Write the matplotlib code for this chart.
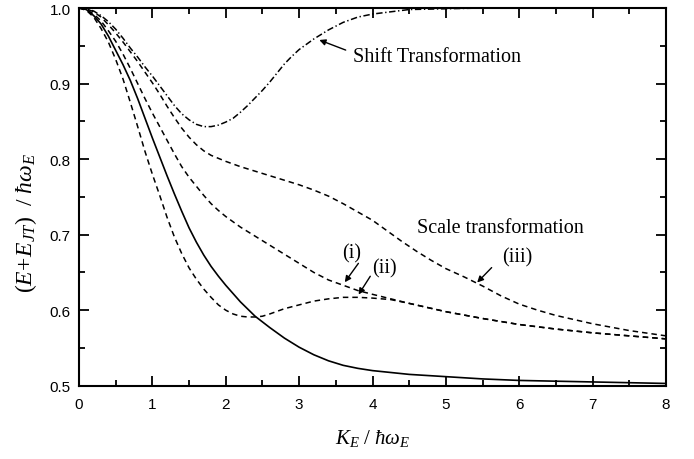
import numpy as np
import matplotlib
matplotlib.use("Agg")
import matplotlib.pyplot as plt
from matplotlib.ticker import MultipleLocator, FormatStrFormatter

plt.rcParams['mathtext.fontset'] = 'custom'
plt.rcParams['mathtext.rm'] = 'Liberation Serif'
plt.rcParams['mathtext.it'] = 'Liberation Serif:italic'
plt.rcParams['mathtext.bf'] = 'Liberation Serif:bold'

# Exact solution (solid)
k_exact = [0, 0.1, 0.2, 0.3, 0.4, 0.5, 0.6, 0.7, 0.8, 0.9, 1.0, 1.1, 1.2, 1.3, 1.4, 1.5,
           1.6, 1.7, 1.8, 1.9, 2.0, 2.2, 2.4, 2.6, 2.8, 3.0, 3.2, 3.4, 3.6, 3.8, 4.0,
           4.5, 5.0, 5.5, 6.0, 6.5, 7.0, 7.5, 8.0]
v_exact = [1.0, 0.998, 0.99, 0.979, 0.963, 0.944, 0.925, 0.904, 0.88, 0.854, 0.828,
           0.803, 0.778, 0.754, 0.731, 0.709, 0.69, 0.673, 0.658, 0.645, 0.633, 0.611,
           0.592, 0.577, 0.563, 0.551, 0.541, 0.533, 0.527, 0.523, 0.520, 0.515, 0.512,
           0.509, 0.507, 0.506, 0.505, 0.504, 0.503]

# Scale transformation (i)
k_i = [0, 0.1, 0.2, 0.3, 0.4, 0.5, 0.6, 0.7, 0.8, 0.9, 1.0, 1.1, 1.2, 1.3, 1.4, 1.5, 1.6,
       1.7, 1.8, 1.9, 2.0, 2.2, 2.4, 2.6, 2.8, 3.0, 3.2, 3.4, 3.6, 3.8, 4.0, 4.25, 4.5,
       5.0, 5.5, 6.0, 6.5, 7.0, 7.5, 8.0]
v_i = [1.0, 0.998, 0.992, 0.983, 0.97, 0.956, 0.939, 0.92, 0.9, 0.88, 0.861, 0.843,
       0.825, 0.807, 0.79, 0.776, 0.764, 0.752, 0.741, 0.732, 0.724, 0.71, 0.698, 0.686,
       0.674, 0.662, 0.65, 0.64, 0.633, 0.626, 0.621, 0.615, 0.609, 0.598, 0.589, 0.581,
       0.575, 0.570, 0.566, 0.562]

# Scale transformation (ii)
k_ii = [0, 0.1, 0.2, 0.3, 0.4, 0.5, 0.6, 0.7, 0.8, 0.9, 1.0, 1.1, 1.2, 1.3, 1.4, 1.5,
        1.6, 1.7, 1.8, 1.9, 2.0, 2.1, 2.2, 2.3, 2.4, 2.5, 2.6, 2.8, 3.0, 3.2, 3.4, 3.6,
        3.8, 4.0, 4.25, 4.5, 5.0, 5.5, 6.0, 6.5, 7.0, 7.5, 8.0]
v_ii = [1.0, 0.997, 0.988, 0.973, 0.955, 0.932, 0.906, 0.875, 0.843, 0.81, 0.78, 0.752,
        0.723, 0.697, 0.675, 0.656, 0.641, 0.628, 0.617, 0.607, 0.600, 0.595, 0.592,
        0.591, 0.591, 0.592, 0.595, 0.602, 0.607, 0.612, 0.615, 0.617, 0.617, 0.616,
        0.614, 0.609, 0.598, 0.589, 0.581, 0.575, 0.570, 0.566, 0.562]

# Scale transformation (iii)
k_iii = [0, 0.1, 0.2, 0.3, 0.4, 0.5, 0.6, 0.7, 0.8, 0.9, 1.0, 1.1, 1.2, 1.3, 1.4, 1.5,
         1.6, 1.7, 1.8, 2.0, 2.2, 2.4, 2.6, 2.8, 3.0, 3.2, 3.4, 3.6, 3.8, 4.0, 4.2, 4.4,
         4.6, 4.8, 5.0, 5.25, 5.5, 5.75, 6.0, 6.25, 6.5, 7.0, 7.5, 8.0]
v_iii = [1.0, 0.999, 0.995, 0.988, 0.978, 0.967, 0.955, 0.942, 0.929, 0.915, 0.901,
         0.886, 0.87, 0.855, 0.841, 0.829, 0.819, 0.811, 0.805, 0.797, 0.790, 0.784,
         0.778, 0.772, 0.766, 0.759, 0.751, 0.741, 0.730, 0.719, 0.705, 0.691, 0.678,
         0.666, 0.655, 0.644, 0.632, 0.619, 0.608, 0.600, 0.593, 0.582, 0.573, 0.566]

# Shift transformation (dash-dot)
k_shift = [0, 0.1, 0.2, 0.3, 0.4, 0.5, 0.6, 0.7, 0.8, 0.9, 1.0, 1.1, 1.2, 1.3, 1.4, 1.5,
           1.6, 1.7, 1.8, 1.9, 2.0, 2.1, 2.2, 2.3, 2.4, 2.5, 2.6, 2.7, 2.8, 2.9, 3.0,
           3.2, 3.4, 3.6, 3.8, 4.0, 4.25, 4.5, 5.0, 5.5, 6.0, 7.0, 8.0]
v_shift = [1.0, 0.999, 0.996, 0.99, 0.982, 0.972, 0.96, 0.947, 0.935, 0.922, 0.91,
           0.897, 0.884, 0.871, 0.86, 0.852, 0.846, 0.843, 0.843, 0.845, 0.849, 0.854,
           0.862, 0.871, 0.881, 0.891, 0.902, 0.914, 0.926, 0.936, 0.945, 0.959, 0.971,
           0.981, 0.988, 0.992, 0.995, 0.998, 0.999, 1.0, 1.0, 1.0, 1.0]

fig = plt.figure(figsize=(6.94, 4.60), dpi=100)
ax = fig.add_axes([0.1138, 0.1593, 0.8459, 0.8211])

lw = 1.1
ax.plot(k_exact, v_exact, color='black', lw=1.2)
ax.plot(k_i, v_i, color='black', lw=lw, dashes=(3.6, 2.6))
ax.plot(k_ii, v_ii, color='black', lw=lw, dashes=(3.6, 2.6))
ax.plot(k_iii, v_iii, color='black', lw=lw, dashes=(3.6, 2.6))
ax.plot(k_shift, v_shift, color='black', lw=lw, dashes=(4.2, 1.7, 0.9, 1.7))

ax.set_xlim(0, 8)
ax.set_ylim(0.5, 1.0)
ax.xaxis.set_major_locator(MultipleLocator(1))
ax.xaxis.set_minor_locator(MultipleLocator(0.5))
ax.yaxis.set_major_locator(MultipleLocator(0.1))
ax.yaxis.set_minor_locator(MultipleLocator(0.05))
ax.yaxis.set_major_formatter(FormatStrFormatter('%.1f'))
ax.tick_params(which='both', direction='in', top=True, right=True, width=1.3,
               labelsize=11)
ax.tick_params(axis='x', pad=8)
ax.tick_params(axis='y', pad=6)
ax.tick_params(which='major', length=7)
ax.tick_params(which='minor', length=4)
for lab in ax.get_xticklabels() + ax.get_yticklabels():
    lab.set_family('Liberation Sans')
for s in ax.spines.values():
    s.set_linewidth(1.5)

ax.set_xlabel(r'$K_E\ /\ \hbar\omega_E$', fontsize=15, labelpad=12)
ax.set_ylabel(r'$(E\!+\!E_{JT})\ \ /\ \hbar\omega_E$', fontsize=17)
ax.yaxis.set_label_coords(-0.068, 0.434)

serif = 'Liberation Serif'
ax.text(3.74, 0.936, 'Shift Transformation', fontsize=14.5, family=serif,
        ha='left', va='center')
ap = dict(arrowstyle='-|>', color='black', lw=1, mutation_scale=9)
ax.annotate('', xy=(3.24, 0.959), xytext=(3.67, 0.943), arrowprops=ap)
ax.text(4.60, 0.7095, 'Scale transformation', fontsize=14.5, family=serif,
        ha='left', va='center')
ax.text(3.72, 0.676, '(i)', fontsize=14.5, family=serif, ha='center', va='center')
ax.text(4.16, 0.6565, '(ii)', fontsize=14.5, family=serif, ha='center', va='center')
ax.text(5.97, 0.670, '(iii)', fontsize=14.5, family=serif, ha='center', va='center')
ax.annotate('', xy=(3.60, 0.634), xytext=(3.83, 0.665), arrowprops=ap)
ax.annotate('', xy=(3.79, 0.6176), xytext=(3.99, 0.648), arrowprops=ap)
ax.annotate('', xy=(5.40, 0.634), xytext=(5.65, 0.659), arrowprops=ap)

fig.savefig('out.png', dpi=100)
